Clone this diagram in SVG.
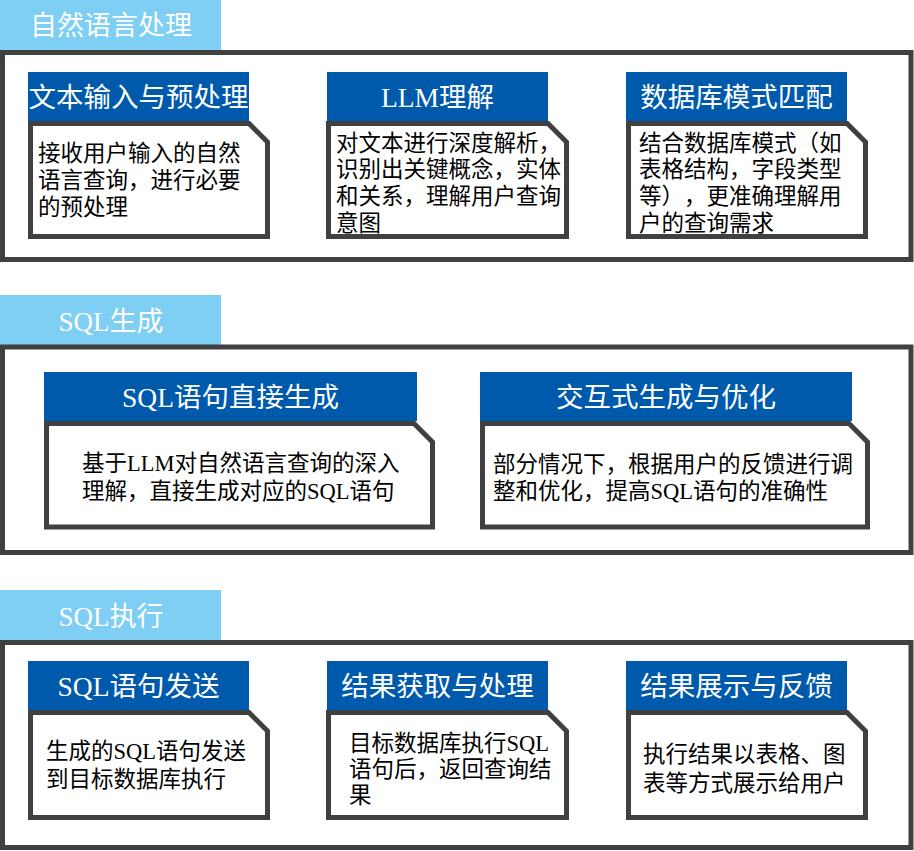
<svg xmlns="http://www.w3.org/2000/svg" width="914" height="851" viewBox="0 0 914 851">
<style>
.tab{fill:#7FCEF4;}
.frame{fill:none;stroke:#404040;stroke-width:5;}
.hdr{fill:#005AAB;}
.card{fill:#fff;stroke:#404040;stroke-width:5;stroke-linejoin:miter;}
text{font-family:"Liberation Serif","Noto Sans CJK SC",sans-serif;text-spacing-trim:space-all;}
.tt{fill:#fff;font-size:27px;text-anchor:middle;}
.ht{fill:#fff;font-size:27.5px;text-anchor:middle;}
.bt{fill:#000;font-size:22.5px;}
</style>
<rect width="914" height="851" fill="#fff"/>
<g id="connectors"></g>

<g id="section-nlp">
<rect class="tab" x="0" y="0" width="221" height="50"/>
<text class="tt" x="111" y="35">自然语言处理</text>
<rect class="frame" x="2.5" y="52.5" width="908.5" height="207"/>
</g>
<g id="node-text-input">
<rect class="hdr" x="28" y="72" width="221" height="49"/>
<text class="ht" x="138.5" y="107">文本输入与预处理</text>
<path class="card" d="M30.5,123.5 H249 L267.5,142 V236.5 H30.5 Z"/>
<text class="bt" x="38" y="161">接收用户输入的自然</text>
<text class="bt" x="38" y="188">语言查询，进行必要</text>
<text class="bt" x="38" y="215">的预处理</text>
</g>
<g id="node-llm">
<rect class="hdr" x="327" y="72" width="221" height="49"/>
<text class="ht" x="437.5" y="107">LLM理解</text>
<path class="card" d="M328.5,123.5 H548 L566.5,142 V236.5 H328.5 Z"/>
<text class="bt" x="336" y="151">对文本进行深度解析，</text>
<text class="bt" x="336" y="177">识别出关键概念，实体</text>
<text class="bt" x="336" y="204">和关系，理解用户查询</text>
<text class="bt" x="336" y="231">意图</text>
</g>
<g id="node-schema">
<rect class="hdr" x="626" y="72" width="221" height="49"/>
<text class="ht" x="736.5" y="107">数据库模式匹配</text>
<path class="card" d="M628.5,123.5 H847 L865.5,142 V236.5 H628.5 Z"/>
<text class="bt" x="639" y="151">结合数据库模式（如</text>
<text class="bt" x="639" y="177">表格结构，字段类型</text>
<text class="bt" x="639" y="204">等），更准确理解用</text>
<text class="bt" x="639" y="231">户的查询需求</text>
</g>

<g id="section-sqlgen">
<rect class="tab" x="0" y="295" width="221" height="50"/>
<text class="tt" x="111" y="331">SQL生成</text>
<rect class="frame" x="2.5" y="347" width="908.5" height="205.5"/>
</g>
<g id="node-direct">
<rect class="hdr" x="44" y="372" width="373" height="49"/>
<text class="ht" x="230.5" y="407">SQL语句直接生成</text>
<path class="card" d="M46.5,423.5 H414 L432.5,442 V527 H46.5 Z"/>
<text class="bt" x="82" y="471">基于LLM对自然语言查询的深入</text>
<text class="bt" x="82" y="499">理解，直接生成对应的SQL语句</text>
</g>
<g id="node-interactive">
<rect class="hdr" x="480" y="372" width="372" height="49"/>
<text class="ht" x="666" y="407">交互式生成与优化</text>
<path class="card" d="M482.5,423.5 H849 L867.5,442 V527 H482.5 Z"/>
<text class="bt" x="493" y="472">部分情况下，根据用户的反馈进行调</text>
<text class="bt" x="493" y="499">整和优化，提高SQL语句的准确性</text>
</g>

<g id="section-sqlexec">
<rect class="tab" x="0" y="590" width="221" height="50"/>
<text class="tt" x="111" y="626">SQL执行</text>
<rect class="frame" x="2.5" y="642.5" width="908.5" height="205"/>
</g>
<g id="node-send">
<rect class="hdr" x="28" y="661" width="221" height="49"/>
<text class="ht" x="138.5" y="696">SQL语句发送</text>
<path class="card" d="M30.5,712.5 H249 L267.5,731 V817.5 H30.5 Z"/>
<text class="bt" x="46" y="759">生成的SQL语句发送</text>
<text class="bt" x="46" y="787">到目标数据库执行</text>
</g>
<g id="node-result">
<rect class="hdr" x="327" y="661" width="221" height="49"/>
<text class="ht" x="437.5" y="696">结果获取与处理</text>
<path class="card" d="M328.5,712.5 H548 L566.5,731 V817.5 H328.5 Z"/>
<text class="bt" x="349" y="751">目标数据库执行SQL</text>
<text class="bt" x="349" y="777">语句后，返回查询结</text>
<text class="bt" x="349" y="803">果</text>
</g>
<g id="node-display">
<rect class="hdr" x="626" y="661" width="221" height="49"/>
<text class="ht" x="736.5" y="696">结果展示与反馈</text>
<path class="card" d="M628.5,712.5 H847 L865.5,731 V817.5 H628.5 Z"/>
<text class="bt" x="643" y="762">执行结果以表格、图</text>
<text class="bt" x="643" y="791">表等方式展示给用户</text>
</g>
</svg>
